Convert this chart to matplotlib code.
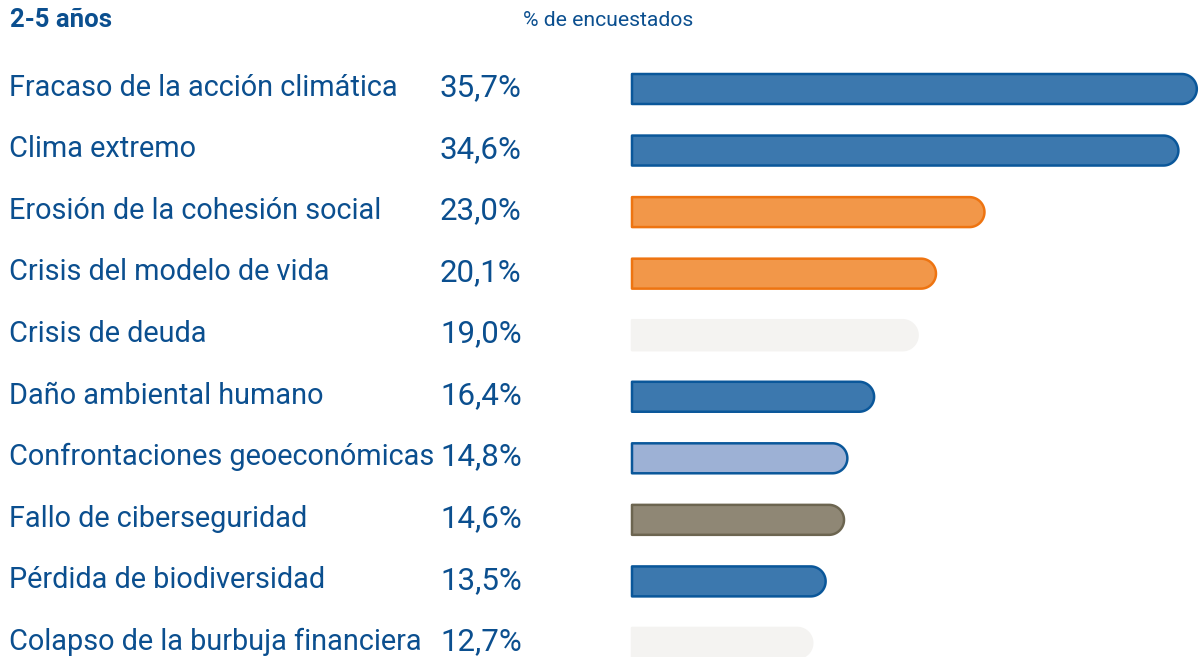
import numpy as np
import matplotlib
matplotlib.use("Agg")
import matplotlib.pyplot as plt
from matplotlib.path import Path
from matplotlib.patches import PathPatch
from matplotlib.transforms import blended_transform_factory

plt.rcParams['font.family'] = ['Roboto', 'DejaVu Sans']

categories = ["Fracaso de la acción climática", "Clima extremo", "Erosión de la cohesión social",
              "Crisis del modelo de vida", "Crisis de deuda", "Daño ambiental humano",
              "Confrontaciones geoeconómicas", "Fallo de ciberseguridad",
              "Pérdida de biodiversidad", "Colapso de la burbuja financiera"]
values = [35.7, 34.6, 23.0, 20.1, 19.0, 16.4, 14.8, 14.6, 13.5, 12.7]
value_labels = ["35,7%", "34,6%", "23,0%", "20,1%", "19,0%", "16,4%", "14,8%", "14,6%", "13,5%", "12,7%"]
groups = ["env", "env", "soc", "soc", "eco", "env", "geo", "tech", "env", "eco"]

fills = {"env": "#3c78ae", "soc": "#f29749", "eco": "#f4f3f1", "geo": "#9db1d5", "tech": "#8f8775"}
edges = {"env": "#0a579a", "soc": "#ee7411", "eco": "#f4f3f1", "geo": "#0a579a", "tech": "#6c6550"}
TEXT = "#0b4f8f"

W, H = 1200, 657
fig = plt.figure(figsize=(W/100, H/100), dpi=100)

ax_left_px, ax_right_px = 628, 1200
ax = fig.add_axes([ax_left_px/W, 0, (ax_right_px-ax_left_px)/W, 1])
px_per_unit = 16.72
bar_start = 1.92
xmin = bar_start - (632 - ax_left_px)/px_per_unit
xmax = xmin + (ax_right_px - ax_left_px)/px_per_unit
ax.set_xlim(xmin, xmax)
row0_px, row_step = 89, 61.55
ax.set_ylim((H - row0_px)/row_step, -row0_px/row_step)
ax.axis('off')

h = 0.2435
r_px = 15
rx = r_px / px_per_unit
theta = np.linspace(-np.pi/2, np.pi/2, 60)
for i, (v, g) in enumerate(zip(values, groups)):
    cx = v - rx
    verts = [(bar_start, i - h), (cx, i - h)]
    verts += [(cx + rx*np.cos(t), i + h*np.sin(t)) for t in theta]
    verts += [(bar_start, i + h), (bar_start, i - h)]
    codes = [Path.MOVETO] + [Path.LINETO]*(len(verts)-2) + [Path.CLOSEPOLY]
    ax.add_patch(PathPatch(Path(verts, codes), facecolor=fills[g], edgecolor=edges[g],
                           lw=1.8, joinstyle='round'))

trans = blended_transform_factory(fig.transFigure, ax.transData)
for i, (c, vl) in enumerate(zip(categories, value_labels)):
    fig.text(9/W, i - 0.02, c, transform=trans, ha='left', va='center', fontsize=20.8, color=TEXT)
    fig.text(440/W, i - 0.02, vl, transform=trans, ha='left', va='center', fontsize=22.5, color=TEXT)

fig.text(10/W, 1 - 20/H, "2-5 años", ha='left', va='center', fontsize=18.5, fontweight='bold', color=TEXT)
fig.text(523/W, 1 - 21/H, "% de encuestados", ha='left', va='center', fontsize=15.2, color=TEXT)

fig.savefig("out.png", dpi=100)
